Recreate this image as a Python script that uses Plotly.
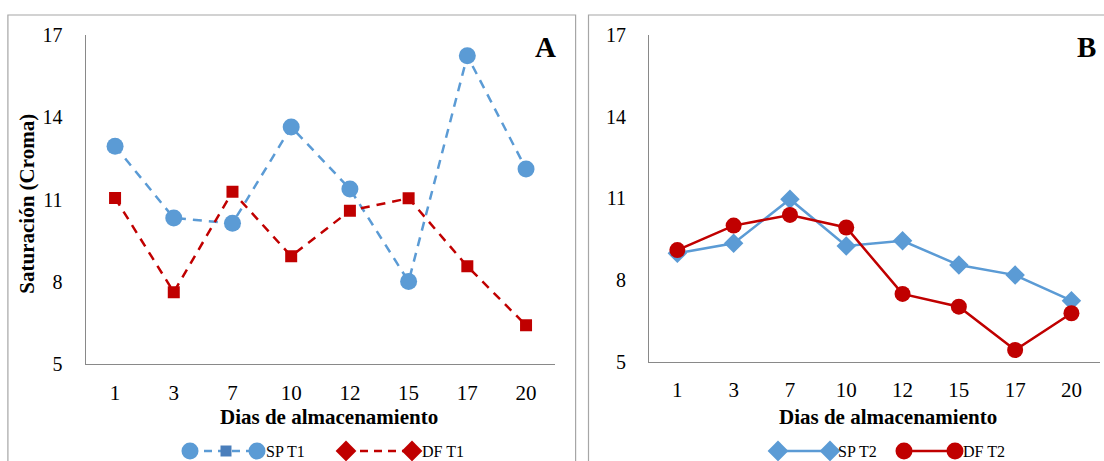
import plotly.graph_objects as go

W, H = 1104, 461

dias = ["1", "3", "7", "10", "12", "15", "17", "20"]
sp_t1 = [12.95, 10.33, 10.14, 13.65, 11.39, 8.02, 16.24, 12.12]
df_t1 = [11.06, 7.63, 11.29, 8.94, 10.60, 11.05, 8.57, 6.42]
sp_t2 = [8.98, 9.35, 10.97, 9.25, 9.44, 8.55, 8.18, 7.24]
df_t2 = [9.10, 10.00, 10.39, 9.93, 7.49, 7.02, 5.43, 6.78]
y_ticks = [5, 8, 11, 14, 17]

BLUE = "#5B9BD5"
RED = "#C00000"
AXIS = "#898989"
BORDER = "#A6A6A6"
FONT = "Liberation Serif"


def fx(px):
    return px / W


def fy(py):
    return 1 - py / H


fig = go.Figure()

# Panel A
fig.add_trace(go.Scatter(x=dias, y=sp_t1, mode="lines+markers", name="SP T1",
                         line=dict(color=BLUE, width=2.5, dash="9px,7px"),
                         marker=dict(symbol="circle", size=17, color=BLUE),
                         xaxis="x", yaxis="y", showlegend=False))
fig.add_trace(go.Scatter(x=dias, y=df_t1, mode="lines+markers", name="DF T1",
                         line=dict(color=RED, width=2.5, dash="9px,7px"),
                         marker=dict(symbol="square", size=12, color=RED),
                         xaxis="x", yaxis="y", showlegend=False))
# Panel B
fig.add_trace(go.Scatter(x=dias, y=sp_t2, mode="lines+markers", name="SP T2",
                         line=dict(color=BLUE, width=2.5),
                         marker=dict(symbol="diamond", size=15, color=BLUE),
                         xaxis="x2", yaxis="y2", showlegend=False))
fig.add_trace(go.Scatter(x=dias, y=df_t2, mode="lines+markers", name="DF T2",
                         line=dict(color=RED, width=2.5),
                         marker=dict(symbol="circle", size=16, color=RED),
                         xaxis="x2", yaxis="y2", showlegend=False))

# Custom Excel-style legend glyphs on an overlay pixel axis
legend_y = 451
def leg_line(x0, x1, color, dash):
    fig.add_trace(go.Scatter(x=[x0, x1], y=[legend_y, legend_y], mode="lines",
                             line=dict(color=color, width=2.5, dash=dash),
                             xaxis="x3", yaxis="y3", showlegend=False, hoverinfo="skip"))

def leg_marks(xs, symbol, size, color):
    fig.add_trace(go.Scatter(x=xs, y=[legend_y] * len(xs), mode="markers",
                             marker=dict(symbol=symbol, size=size, color=color),
                             xaxis="x3", yaxis="y3", showlegend=False, hoverinfo="skip"))

leg_line(190, 257, BLUE, "8px,6px")
leg_marks([190, 257], "circle", 17, BLUE)
leg_marks([226], "square", 11, "#4A7EBB")
leg_line(346, 412, RED, "8px,6px")
leg_marks([346, 412], "diamond", 16, RED)
leg_line(778, 830, BLUE, "solid")
leg_marks([778, 830], "diamond", 16, BLUE)
leg_line(904, 955, RED, "solid")
leg_marks([904, 955], "circle", 17, RED)

xaxis_common = dict(type="category", range=[-0.5, 7.5], showline=True, linecolor=AXIS,
                    linewidth=1.3, showgrid=False, zeroline=False, ticks="",
                    tickfont=dict(family=FONT, size=21, color="black"),
                    ticklabelstandoff=9, fixedrange=True, automargin=False)
yaxis_common = dict(range=[5, 17], tickvals=y_ticks, showline=True, linecolor=AXIS,
                    linewidth=1.3, showgrid=False, zeroline=False, ticks="",
                    tickfont=dict(family=FONT, size=20, color="black"),
                    ticklabelstandoff=18, fixedrange=True, automargin=False)

fig.update_layout(
    width=W, height=H, autosize=False,
    margin=dict(l=0, r=0, t=0, b=0, pad=0, autoexpand=False),
    paper_bgcolor="white", plot_bgcolor="rgba(0,0,0,0)",
    font=dict(family=FONT, color="black"),
    xaxis=dict(domain=[fx(85.7), fx(555.4)], anchor="y", **xaxis_common),
    yaxis=dict(domain=[fy(364.3), fy(35)], anchor="x", **yaxis_common),
    xaxis2=dict(domain=[fx(649.2), fx(1099.6)], anchor="y2", **xaxis_common),
    yaxis2=dict(domain=[fy(361.7), fy(35)], anchor="x2", **yaxis_common),
    xaxis3=dict(domain=[0, 1], range=[0, W], visible=False, fixedrange=True, anchor="y3"),
    yaxis3=dict(domain=[0, 1], range=[H, 0], visible=False, fixedrange=True, anchor="x3"),
    showlegend=False,
)

# Panel borders
fig.add_shape(type="rect", xref="paper", yref="paper",
              x0=fx(7.9), x1=fx(575.6), y0=-0.1, y1=fy(15),
              line=dict(color=BORDER, width=1.2), fillcolor="rgba(0,0,0,0)", layer="below")
fig.add_shape(type="rect", xref="paper", yref="paper",
              x0=fx(588.5), x1=1.1, y0=-0.1, y1=fy(15),
              line=dict(color=BORDER, width=1.2), fillcolor="rgba(0,0,0,0)", layer="below")

ann = []
for cx in (328.6, 888):
    ann.append(dict(text="<b>Dias de almacenamiento</b>", x=fx(cx), y=fy(416.7),
                    xref="paper", yref="paper", showarrow=False, xanchor="center",
                    yanchor="middle", font=dict(family=FONT, size=21, color="black")))
ann.append(dict(text="<b>Saturación (Croma)</b>", x=fx(26.7), y=fy(204), textangle=-90,
                xref="paper", yref="paper", showarrow=False, xanchor="center",
                yanchor="middle", font=dict(family=FONT, size=21, color="black")))
ann.append(dict(text="<b>A</b>", x=fx(545), y=fy(46.7), xref="paper", yref="paper",
                showarrow=False, xanchor="center", yanchor="middle",
                font=dict(family=FONT, size=29, color="black")))
ann.append(dict(text="<b>B</b>", x=fx(1086), y=fy(46.7), xref="paper", yref="paper",
                showarrow=False, xanchor="center", yanchor="middle",
                font=dict(family=FONT, size=29, color="black")))
for tx, label in ((264.3, "SP T1"), (420, "DF T1"), (836, "SP T2"), (961, "DF T2")):
    ann.append(dict(text=label, x=fx(tx), y=fy(legend_y), xref="paper", yref="paper",
                    showarrow=False, xanchor="left", yanchor="middle",
                    font=dict(family=FONT, size=16, color="black")))
fig.update_layout(annotations=ann)

fig.write_html("out.html", config={"displayModeBar": False},
               post_script="document.body.style.margin='0';document.body.style.overflow='hidden';")
